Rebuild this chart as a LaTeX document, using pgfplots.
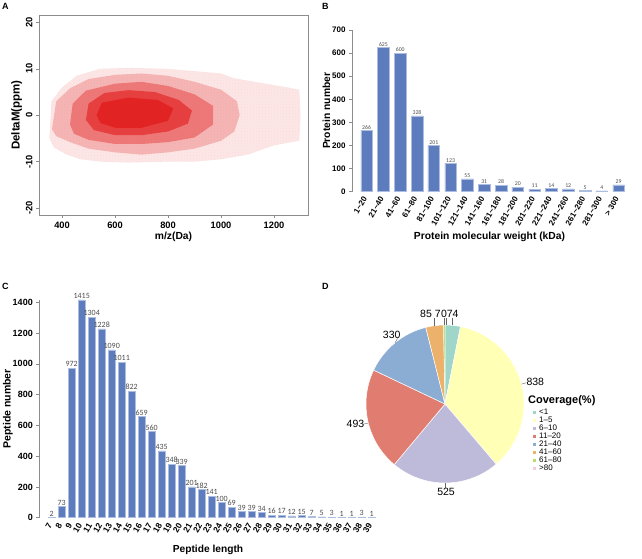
\documentclass[border=0pt]{standalone}
\usepackage{fontspec}
\setmainfont{Liberation Sans}
\newfontfamily\calibri{Carlito}
\usepackage{pgfplots}
\pgfplotsset{compat=1.18}
\usetikzlibrary{patterns}
\definecolor{barblue}{RGB}{92,124,190}
\definecolor{dotred}{RGB}{222,8,8}
\definecolor{pieA}{RGB}{160,214,202}
\definecolor{pieB}{RGB}{255,255,181}
\definecolor{pieC}{RGB}{190,186,218}
\definecolor{pieD}{RGB}{224,125,112}
\definecolor{pieE}{RGB}{139,172,211}
\definecolor{pieF}{RGB}{236,177,106}
\definecolor{pieG}{RGB}{184,222,105}
\definecolor{pieH}{RGB}{246,205,224}
\newcommand{\tl}{\textasciitilde}
\pgfplotsset{
  every axis/.append style={/pgf/number format/assume math mode=true, /pgf/number format/1000 sep={}},
}
\begin{document}
\begin{tikzpicture}
\path[use as bounding box] (0pt,0pt) rectangle (642pt,559pt);
% panel letters
\node[anchor=north west, inner sep=0pt, font=\bfseries\fontsize{9}{10}\selectfont] at (2pt,556pt) {A};
\node[anchor=north west, inner sep=0pt, font=\bfseries\fontsize{9}{10}\selectfont] at (322pt,556pt) {B};
\node[anchor=north west, inner sep=0pt, font=\bfseries\fontsize{9}{10}\selectfont] at (2pt,276pt) {C};
\node[anchor=north west, inner sep=0pt, font=\bfseries\fontsize{9}{10}\selectfont] at (322pt,276pt) {D};

% ---------------- Panel A ----------------
\begin{axis}[at={(39pt,344pt)}, anchor=south west, scale only axis,
  width=269pt, height=200pt,
  xmin=313, xmax=1328, ymin=-21.5, ymax=21.6,
  axis line style={draw=black!45, line width=0.8pt},
  tick align=outside, xtick pos=bottom, ytick pos=left,
  major tick length=3pt, tick style={black!45, line width=0.6pt},
  xtick={400,600,800,1000,1200}, ytick={-20,-10,0,10,20},
  yticklabel style={rotate=90, anchor=south},
  ticklabel style={font=\bfseries\fontsize{9.3}{10}\selectfont},
  xlabel={m/z(Da)}, ylabel={DeltaM(ppm)},
  xlabel style={font=\bfseries\fontsize{10.3}{11}\selectfont, yshift=3pt},
  ylabel style={font=\bfseries\fontsize{11.5}{12}\selectfont, yshift=-3pt},
]
\addplot[draw=none, fill=dotred, fill opacity=0.10, postaction={pattern=crosshatch dots, pattern color=dotred!60}] coordinates {
 (352,-5) (355,-2) (360,3) (400,6) (455,8.5) (543,10) (650,10.2) (800,10)
 (900,9.5) (1000,9) (1047,8) (1147,7) (1250,6) (1295,5.5) (1300,0)
 (1295,-5.5) (1200,-6.5) (1100,-8.5) (1000,-9.5) (900,-10) (800,-10)
 (650,-10.2) (543,-10) (470,-9.5) (418,-8.5) (370,-7)} -- cycle;
\addplot[draw=none, fill=dotred, fill opacity=0.22] coordinates {
 (362,-3) (378,3) (430,5.8) (500,7.8) (600,8.7) (700,9) (800,8.5) (900,7.2)
 (1000,5.5) (1060,3) (1070,0) (1050,-3.5) (1000,-5.5) (900,-7.2) (800,-8)
 (700,-8.5) (600,-8) (500,-7.2) (430,-5.8) (378,-4.5)} -- cycle;
\addplot[draw=none, fill=dotred, fill opacity=0.35] coordinates {
 (430,-2) (440,2.5) (490,5.3) (600,6.8) (700,7.2) (800,6.3) (900,4.5) (970,2)
 (970,-2) (900,-4.8) (800,-5.8) (700,-6.2) (600,-6.2) (500,-5.3) (445,-4)} -- cycle;
\addplot[draw=none, fill=dotred, fill opacity=0.5] coordinates {
 (490,-1) (500,2.5) (560,4.8) (650,5.4) (750,5) (840,3.3) (890,1) (875,-1.8)
 (800,-3.5) (700,-4.3) (600,-4.3) (520,-3.2)} -- cycle;
\addplot[draw=none, fill=dotred, fill opacity=0.5] coordinates {
 (530,0) (550,2.7) (650,3.8) (760,3.3) (820,1.5) (800,-1.2) (700,-2.7)
 (600,-2.7) (545,-1.7)} -- cycle;
\end{axis}

% ---------------- Panel B ----------------
\begin{axis}[at={(352pt,367.3pt)}, anchor=south west, scale only axis,
  width=275pt, height=161.7pt,
  xmin=-0.87, xmax=15.5, ymin=0, ymax=700,
  axis lines=left, axis line style={-},
  x axis line style={draw=none}, y axis line style={draw=black!45, line width=0.6pt},
  xtick style={draw=none}, ytick style={black!45, line width=0.6pt},
  tick align=outside, major tick length=3pt,
  ytick={0,100,...,700},
  xtick={0,...,15},
  xticklabels={1\tl20,21\tl40,41\tl60,61\tl80,81\tl100,101\tl120,121\tl140,141\tl160,161\tl180,181\tl200,201\tl220,221\tl240,241\tl260,261\tl280,281\tl300,{> 300}},
  xticklabel style={rotate=60, anchor=east, font=\bfseries\fontsize{8}{9}\selectfont},
  yticklabel style={font=\bfseries\fontsize{8}{9}\selectfont},
  ybar, bar width=11.7pt,
  nodes near coords,
  every node near coord/.append style={font=\calibri\fontsize{5.8}{6}\selectfont, color=black!70, inner sep=1pt},
  xlabel={Protein molecular weight (kDa)}, ylabel={Protein number},
  xlabel style={font=\bfseries\fontsize{10.3}{11}\selectfont, yshift=2pt},
  ylabel style={font=\bfseries\fontsize{10.3}{11}\selectfont, yshift=-5pt},
]
\addplot[fill=barblue, draw=barblue!50!white, line width=0.4pt] coordinates {
 (0,266) (1,625) (2,600) (3,328) (4,201) (5,123) (6,55) (7,31)
 (8,28) (9,20) (10,11) (11,14) (12,12) (13,5) (14,4) (15,29)};
\end{axis}

% ---------------- Panel C ----------------
\begin{axis}[at={(39.3pt,41.3pt)}, anchor=south west, scale only axis,
  width=337.4pt, height=217.7pt,
  xmin=5.76, xmax=39.5, ymin=0, ymax=1415,
  axis lines=left, axis line style={-},
  x axis line style={draw=none}, y axis line style={draw=black!45, line width=0.6pt},
  xtick style={draw=none}, ytick style={black!45, line width=0.6pt},
  tick align=outside, major tick length=3pt,
  ytick={0,200,...,1400},
  xtick={7,...,39},
  xticklabel style={rotate=60, anchor=east, font=\bfseries\fontsize{8.5}{9}\selectfont},
  yticklabel style={font=\bfseries\fontsize{9}{10}\selectfont},
  ybar, bar width=7pt,
  nodes near coords,
  every node near coord/.append style={font=\calibri\fontsize{8}{8}\selectfont, color=black!70, inner sep=1pt},
  xlabel={Peptide length}, ylabel={Peptide number},
  xlabel style={font=\bfseries\fontsize{10.2}{11}\selectfont, yshift=-4pt},
  ylabel style={font=\bfseries\fontsize{10.5}{11}\selectfont, yshift=-7pt},
]
\addplot[fill=barblue, draw=barblue!50!white, line width=0.4pt] coordinates {
 (7,2) (8,73) (9,972) (10,1415) (11,1304) (12,1228) (13,1090) (14,1011)
 (15,822) (16,659) (17,560) (18,435) (19,348) (20,339) (21,201) (22,182)
 (23,141) (24,100) (25,69) (26,39) (27,39) (28,34) (29,16) (30,17)
 (31,12) (32,15) (33,7) (34,5) (35,3) (36,1) (37,1) (38,3) (39,1)};
\end{axis}

% ---------------- Panel D ----------------
\pgfmathsetmacro{\tot}{74+838+525+493+330+85+7+0}
\pgfmathsetmacro{\aA}{90-74/\tot*360}
\pgfmathsetmacro{\aB}{\aA-838/\tot*360}
\pgfmathsetmacro{\aC}{\aB-525/\tot*360}
\pgfmathsetmacro{\aD}{\aC-493/\tot*360}
\pgfmathsetmacro{\aE}{\aD-330/\tot*360}
\pgfmathsetmacro{\aF}{\aE-85/\tot*360}
\pgfmathsetmacro{\aG}{\aF-7/\tot*360}
\begin{axis}[at={(445pt,155pt)}, anchor=center, scale only axis,
  width=158pt, height=158pt, xmin=-1, xmax=1, ymin=-1, ymax=1,
  axis lines=none, clip=false,
  legend image code/.code={\path[#1, draw=none] (0pt,-1.5pt) rectangle (3pt,1.5pt);},
  legend cell align=left,
  legend style={at={(1.057,0.473)}, anchor=north west, draw=none, fill=none,
    inner sep=0pt, row sep=0pt, column sep=3pt,
    font=\fontsize{8}{8}\selectfont,
    nodes={inner sep=0pt, text height=5.8pt, text depth=2.26pt}},
]
\fill[pieA, draw=white, line width=0.5pt] (axis cs:0,0) -- ++(90:79pt) arc[start angle=90, end angle=\aA, radius=79pt] -- cycle;
\fill[pieB, draw=white, line width=0.5pt] (axis cs:0,0) -- ++(\aA:79pt) arc[start angle=\aA, end angle=\aB, radius=79pt] -- cycle;
\fill[pieC, draw=white, line width=0.5pt] (axis cs:0,0) -- ++(\aB:79pt) arc[start angle=\aB, end angle=\aC, radius=79pt] -- cycle;
\fill[pieD, draw=white, line width=0.5pt] (axis cs:0,0) -- ++(\aC:79pt) arc[start angle=\aC, end angle=\aD, radius=79pt] -- cycle;
\fill[pieE, draw=white, line width=0.5pt] (axis cs:0,0) -- ++(\aD:79pt) arc[start angle=\aD, end angle=\aE, radius=79pt] -- cycle;
\fill[pieF, draw=white, line width=0.5pt] (axis cs:0,0) -- ++(\aE:79pt) arc[start angle=\aE, end angle=\aF, radius=79pt] -- cycle;
\fill[pieG, draw=white, line width=0.2pt] (axis cs:0,0) -- ++(\aF:79pt) arc[start angle=\aF, end angle=\aG, radius=79pt] -- cycle;
% leaders
\draw[black!60, line width=0.4pt] (axis cs:0.968,0.251) -- (axis cs:1.03,0.27);
\draw[black!60, line width=0.4pt] (axis cs:0,-1) -- (axis cs:0,-1.06);
\draw[black!60, line width=0.4pt] (axis cs:-0.970,-0.242) -- (axis cs:-1.035,-0.255);
\draw[black!60, line width=0.4pt] (axis cs:-0.633,0.774) -- (axis cs:-0.6,0.83);
\draw[black!60, line width=0.4pt] (axis cs:-0.135,0.991) -- (axis cs:-0.135,1.09);
\draw[black!60, line width=0.4pt] (axis cs:-0.009,1.0) -- (axis cs:-0.009,1.09);
\draw[black!60, line width=0.4pt] (axis cs:0.012,1.0) -- (axis cs:0.012,1.09);
\draw[black!60, line width=0.4pt] (axis cs:0.092,0.996) -- (axis cs:0.092,1.09);
% labels
\node[font=\fontsize{10.5}{11}\selectfont, inner sep=0pt] at (axis cs:1.143,0.282) {838};
\node[font=\fontsize{10.5}{11}\selectfont, inner sep=0pt] at (axis cs:0.013,-1.118) {525};
\node[font=\fontsize{10.5}{11}\selectfont, inner sep=0pt] at (axis cs:-1.133,-0.253) {493};
\node[font=\fontsize{10.5}{11}\selectfont, inner sep=0pt] at (axis cs:-0.675,0.873) {330};
\node[font=\fontsize{10.5}{11}\selectfont, inner sep=0pt] at (axis cs:-0.240,1.146) {85};
\node[font=\fontsize{10.5}{11}\selectfont, inner sep=0pt] at (axis cs:-0.090,1.146) {7};
\node[font=\fontsize{10.5}{11}\selectfont, inner sep=0pt] at (axis cs:-0.012,1.146) {0};
\node[font=\fontsize{10.5}{11}\selectfont, inner sep=0pt] at (axis cs:0.098,1.146) {74};
\addlegendimage{fill=pieA}\addlegendentry{<1}
\addlegendimage{fill=pieB}\addlegendentry{1–5}
\addlegendimage{fill=pieC}\addlegendentry{6–10}
\addlegendimage{fill=pieD}\addlegendentry{11–20}
\addlegendimage{fill=pieE}\addlegendentry{21–40}
\addlegendimage{fill=pieF}\addlegendentry{41–60}
\addlegendimage{fill=pieG}\addlegendentry{61–80}
\addlegendimage{fill=pieH}\addlegendentry{>80}
\end{axis}
\node[anchor=base west, inner sep=0pt, font=\bfseries\fontsize{11}{12}\selectfont] at (528pt,155.4pt) {Coverage(\%)};
\end{tikzpicture}
\end{document}
